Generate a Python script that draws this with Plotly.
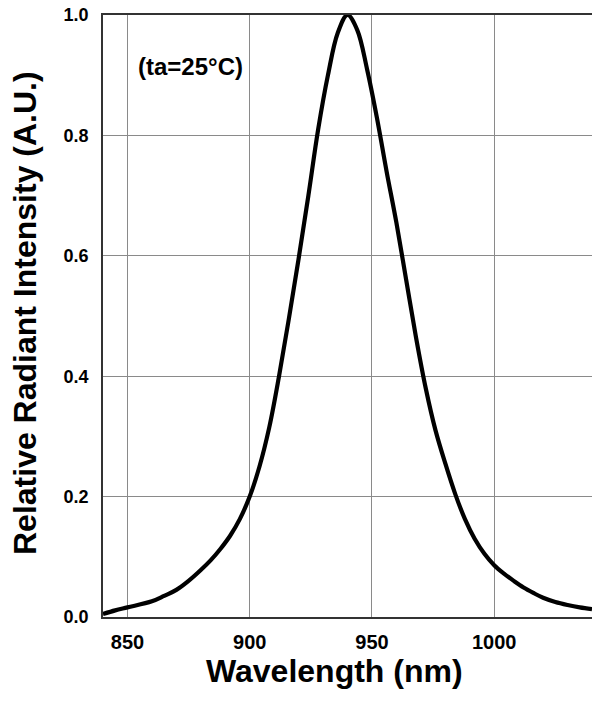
import plotly.graph_objects as go

# Wavelength (nm) and relative radiant intensity
wavelength = [840, 845, 850, 860, 865, 870, 875, 880, 884, 888, 892, 896,
              900, 904, 908, 912, 916, 920, 924, 928, 932, 936, 940,
              944, 948, 952, 956, 960, 964, 968, 972, 976, 980, 984, 988,
              992, 996, 1000, 1004, 1008, 1012, 1016, 1020, 1025, 1030, 1035, 1040]
intensity = [0.005, 0.011, 0.016, 0.026, 0.035, 0.045, 0.060, 0.078, 0.094, 0.113, 0.135, 0.163,
             0.20, 0.25, 0.315, 0.40, 0.495, 0.595, 0.70, 0.81, 0.90, 0.97, 1.0,
             0.975, 0.91, 0.83, 0.74, 0.655, 0.56, 0.465, 0.38, 0.31, 0.255, 0.205, 0.163,
             0.13, 0.105, 0.086, 0.072, 0.060, 0.049, 0.040, 0.032, 0.025, 0.020, 0.016, 0.013]

x_ticks = [850, 900, 950, 1000]
y_ticks = [0.0, 0.2, 0.4, 0.6, 0.8, 1.0]
y_tick_labels = ["0.0", "0.2", "0.4", "0.6", "0.8", "1.0"]

FONT = "Liberation Sans, Arial, sans-serif"

L, R, T, B, W, H = 103, 0, 15, 84, 592, 701
PW, PH = W - L - R, H - T - B


def px_to_paper(px, py):
    return (px - L) / PW, (H - B - py) / PH


fig = go.Figure()
fig.add_trace(go.Scatter(
    x=wavelength, y=intensity, mode="lines",
    line=dict(color="black", width=4.2, shape="spline", smoothing=1.0),
    showlegend=False, hoverinfo="skip", cliponaxis=False,
))

fig.add_annotation(
    x=853.5, y=0.915, xref="x", yref="y", text="<b>(ta=25°C)</b>",
    showarrow=False, xanchor="left", yanchor="middle",
    font=dict(family=FONT, size=24, color="black"),
)

xt_x, xt_y = px_to_paper(334, 671)
fig.add_annotation(
    x=xt_x, y=xt_y, xref="paper", yref="paper", text="<b>Wavelength (nm)</b>",
    showarrow=False, xanchor="center", yanchor="middle",
    font=dict(family=FONT, size=32, color="black"),
)
yt_x, yt_y = px_to_paper(25, 313)
fig.add_annotation(
    x=yt_x, y=yt_y, xref="paper", yref="paper", text="<b>Relative Radiant Intensity (A.U.)</b>",
    showarrow=False, xanchor="center", yanchor="middle", textangle=-90,
    font=dict(family=FONT, size=32, color="black"),
)

fig.update_layout(
    width=W, height=H, autosize=False,
    margin=dict(l=L, r=R, t=T, b=B, autoexpand=False),
    paper_bgcolor="white", plot_bgcolor="white",
    font=dict(family=FONT, color="black"),
    xaxis=dict(
        range=[840, 1040], tickvals=x_ticks, ticktext=[f"<b>{v}</b>" for v in x_ticks],
        showgrid=True, gridcolor="#8a8a8a", gridwidth=1,
        showline=True, linecolor="#333333", linewidth=1.5, mirror=True,
        ticks="", ticklabelstandoff=6, automargin=False,
        tickfont=dict(family=FONT, size=20, color="black"),
        zeroline=False,
    ),
    yaxis=dict(
        range=[0, 1.0], tickvals=y_ticks, ticktext=[f"<b>{t}</b>" for t in y_tick_labels],
        showgrid=True, gridcolor="#8a8a8a", gridwidth=1,
        showline=True, linecolor="#333333", linewidth=1.5,
        ticks="", ticklabelstandoff=9, automargin=False,
        tickfont=dict(family=FONT, size=18, color="black"),
        zeroline=False,
    ),
)

post = (
    "document.documentElement.style.margin='0';"
    "document.body.style.margin='0';document.body.style.padding='0';"
    "var gd=document.getElementById('{plot_id}');"
    "gd.style.width='592px';gd.style.height='701px';"
    "Plotly.relayout(gd,{width:592,height:701});"
)
fig.write_html("out.html", config={"responsive": False, "displayModeBar": False},
               post_script=post)
